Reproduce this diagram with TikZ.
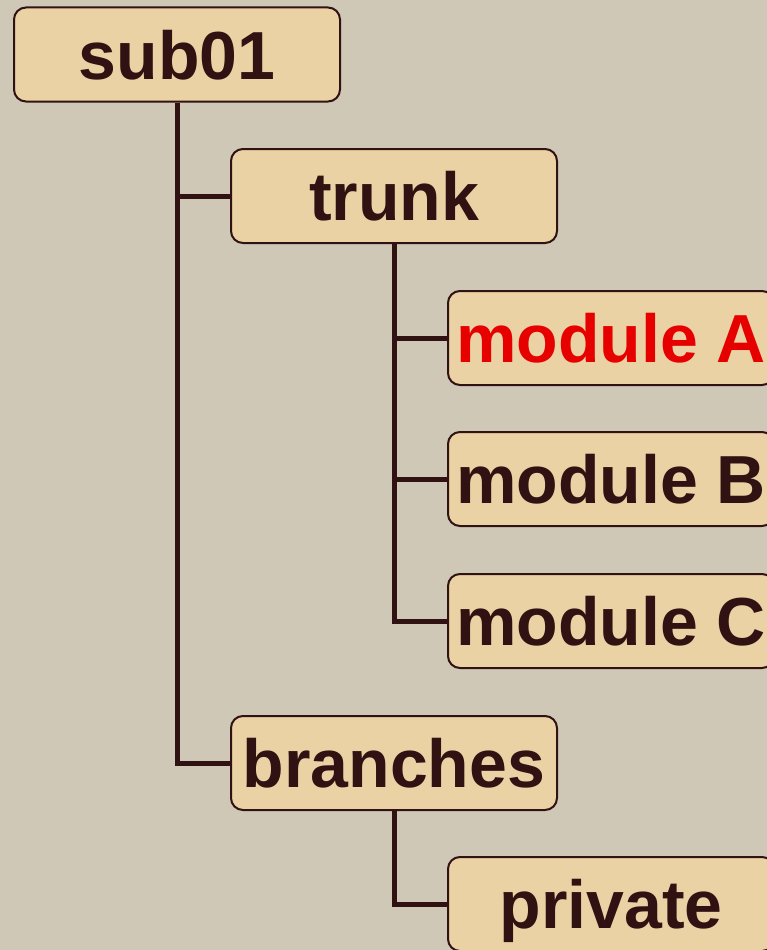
\documentclass[tikz,border=0pt]{standalone}
\usepackage{fontspec}
\setmainfont{Liberation Sans}
\definecolor{bgcol}{RGB}{207,200,183}
\definecolor{boxcol}{RGB}{235,210,165}
\definecolor{inkcol}{RGB}{48,18,18}
\definecolor{redcol}{RGB}{230,0,0}

\begin{document}
\begin{tikzpicture}[x=1pt,y=1pt,
    dirbox/.style={draw=inkcol,line width=2pt,fill=boxcol,rounded corners=12pt,
      minimum width=326pt,minimum height=94pt,inner sep=0pt,
      text height=49pt,text depth=0pt,text=inkcol,
      font=\fontsize{68}{80}\selectfont\bfseries},
    tree/.style={draw=inkcol,line width=5pt}]
  \useasboundingbox (0,0) rectangle (767,-950);
  \clip (0,0) rectangle (767,-950);
  \fill[bgcol] (0,0) rectangle (767,-950);
  % top level
  \node[dirbox] (sub) at (177,-54.5) {sub01};
  \node[dirbox] (trunk) at (394,-196) {trunk};
  \node[dirbox] (branches) at (394,-763) {branches};
  % modules under trunk
  \node[dirbox,text=redcol] (modA) at (611,-338) {module A};
  \node[dirbox] (modB) at (611,-479) {module B};
  \node[dirbox] (modC) at (611,-621) {module C};
  % under branches
  \node[dirbox] (private) at (611,-904) {private};
  % tree lines
  \foreach \n in {trunk,branches}
    \draw[tree] (sub.south) |- (\n.west);
  \foreach \n in {modA,modB,modC}
    \draw[tree] (trunk.south) |- (\n.west);
  \draw[tree] (branches.south) |- (private.west);
\end{tikzpicture}
\end{document}
